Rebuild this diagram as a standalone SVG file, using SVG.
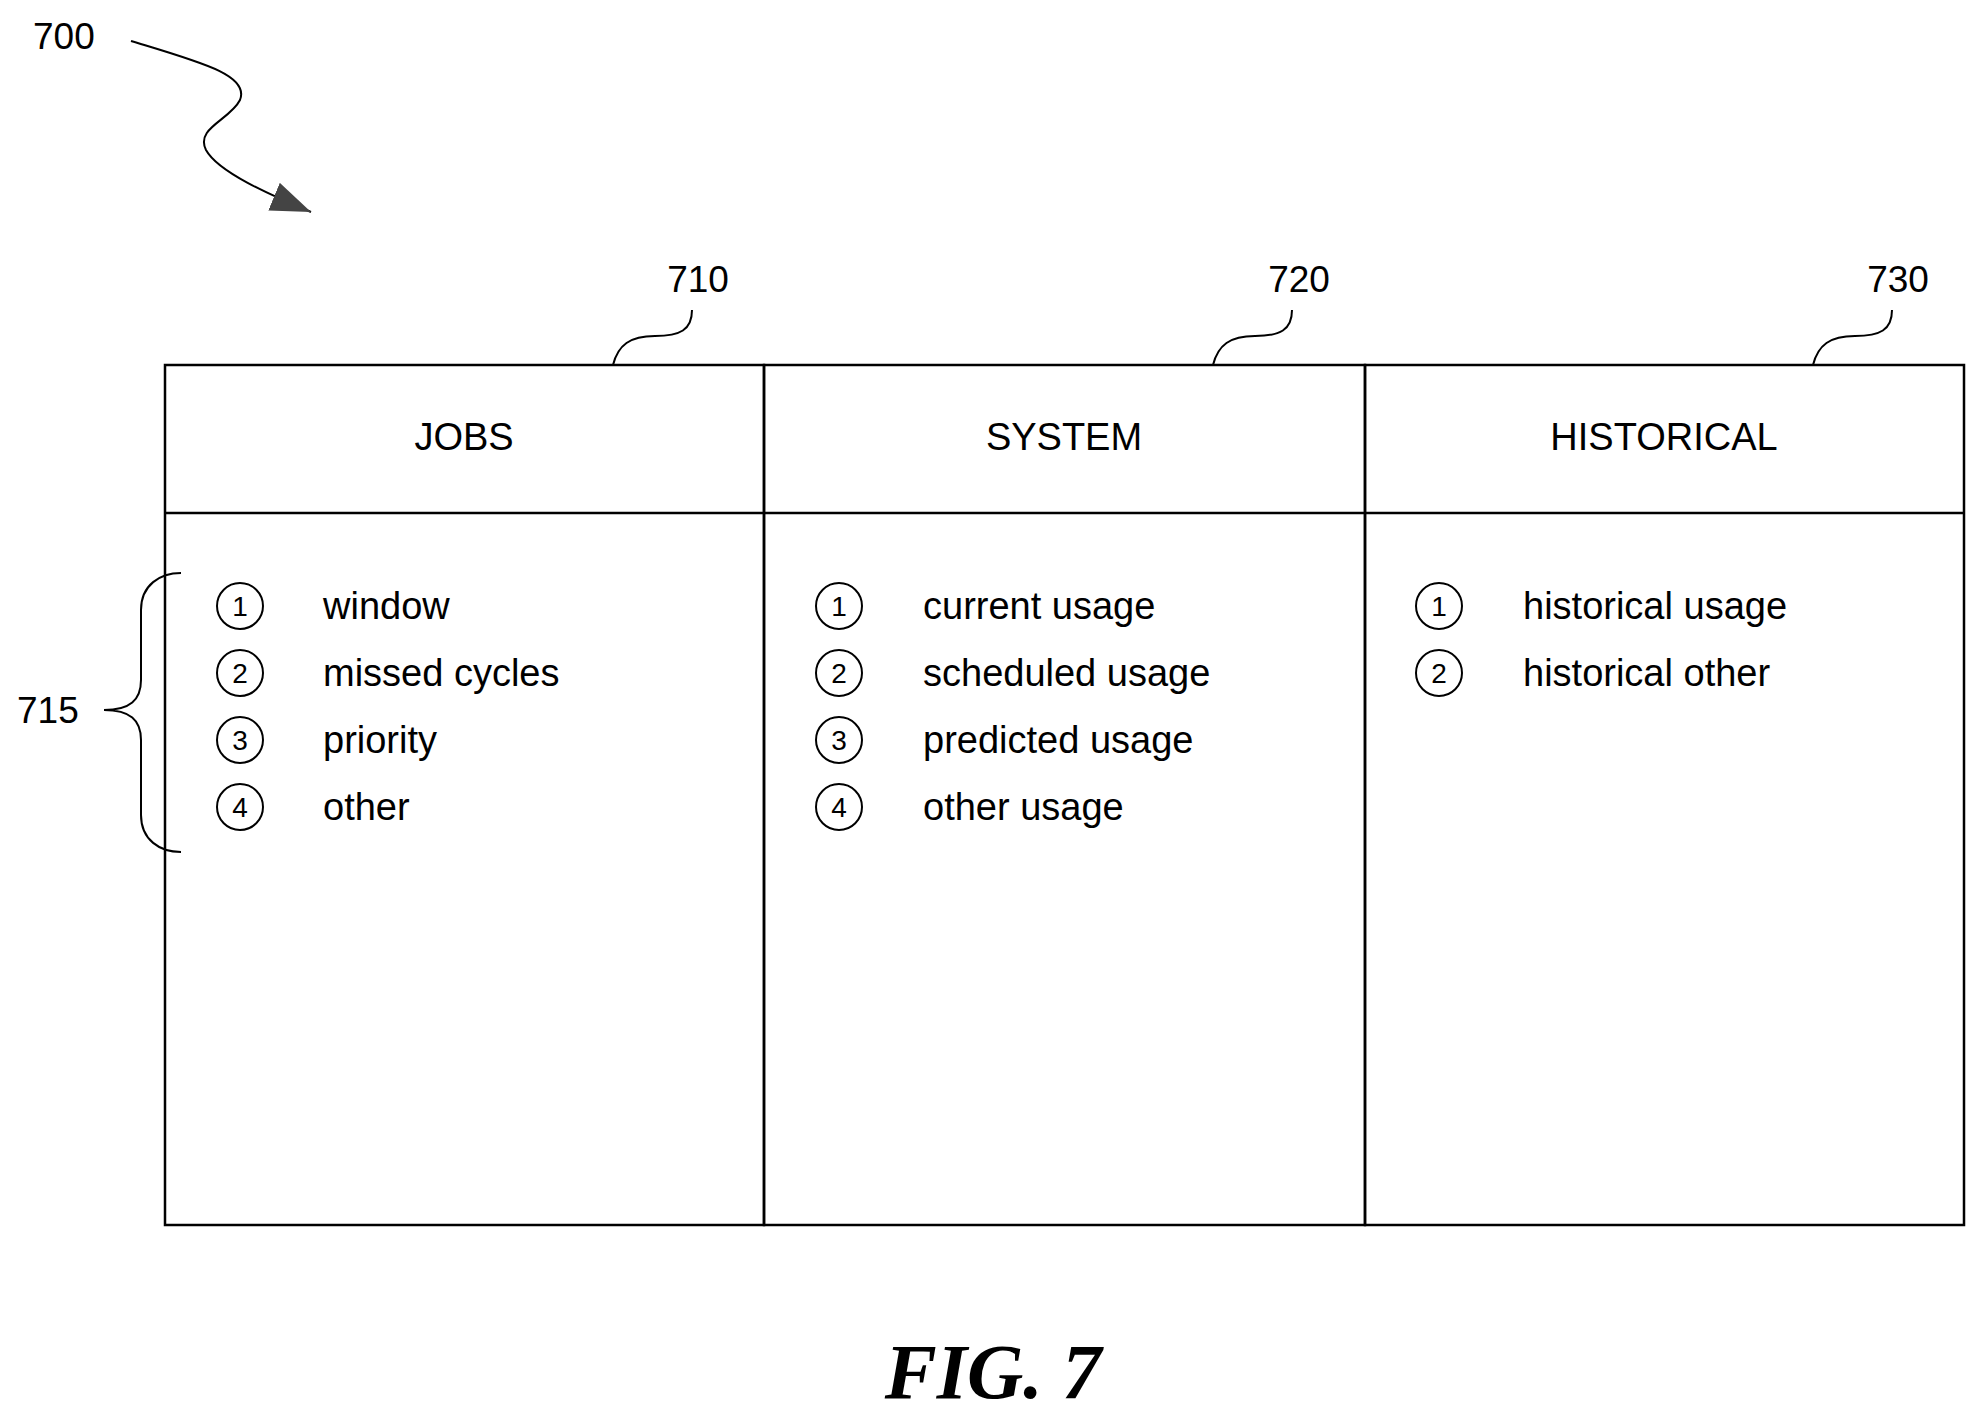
<svg xmlns="http://www.w3.org/2000/svg" width="1987" height="1423" viewBox="0 0 1987 1423">
<style>
.t{font-family:"Liberation Sans",Arial,sans-serif;fill:#000}
.h{font-size:38px;text-anchor:middle}
.i{font-size:38px}
.n{font-size:28px;text-anchor:middle}
.l{font-size:37px}
.s{fill:none;stroke:#000;stroke-width:2.5}
.c{fill:none;stroke:#000;stroke-width:2}
</style>
<defs><marker id="ah" markerWidth="12" markerHeight="10" refX="11" refY="5" orient="auto" markerUnits="userSpaceOnUse" viewBox="0 0 12 10"><path d="M0,0 L12,5 L0,10 Z" fill="#333"/></marker>
<marker id="ah2" markerWidth="40" markerHeight="30" refX="40" refY="15" orient="auto" markerUnits="userSpaceOnUse"><path d="M0,0 L40,15 L0,30 Z" fill="#444"/></marker></defs>
<rect width="1987" height="1423" fill="#fff"/>
<g id="connectors">
<path class="c" d="M131,41 C200,62 250,75 240,100 C230,120 195,128 206,150 C218,172 270,195 311,212" marker-end="url(#ah2)"/>
<path class="c" d="M613,365 C618,345 630,336 655,336 C680,336 692,330 692,310"/>
<path class="c" d="M1213,365 C1218,345 1230,336 1255,336 C1280,336 1292,330 1292,310"/>
<path class="c" d="M1813,365 C1818,345 1830,336 1855,336 C1880,336 1892,330 1892,310"/>
<path class="c" d="M181,573 C160,573 141,585 141,610 L141,680 C141,700 130,710 104,710 C130,710 141,720 141,740 L141,815 C141,840 160,852 181,852"/>
</g>
<g id="label700"><text class="t l" x="33" y="49">700</text></g>
<g id="label715"><text class="t l" x="17" y="723">715</text></g>
<g id="col710">
<rect class="s" x="165" y="365" width="599" height="860"/>
<line class="s" x1="165" y1="513" x2="764" y2="513"/>
<text class="t h" x="464" y="450">JOBS</text>
<text class="t l" x="698" y="292" text-anchor="middle">710</text>
<g class="c"><circle cx="240" cy="606" r="23"/><circle cx="240" cy="673" r="23"/><circle cx="240" cy="740" r="23"/><circle cx="240" cy="807" r="23"/></g>
<text class="t n" x="240" y="616">1</text><text class="t n" x="240" y="683">2</text><text class="t n" x="240" y="750">3</text><text class="t n" x="240" y="817">4</text>
<text class="t i" x="323" y="619">window</text>
<text class="t i" x="323" y="686">missed cycles</text>
<text class="t i" x="323" y="753">priority</text>
<text class="t i" x="323" y="820">other</text>
</g>
<g id="col720">
<rect class="s" x="764" y="365" width="601" height="860"/>
<line class="s" x1="764" y1="513" x2="1365" y2="513"/>
<text class="t h" x="1064" y="450">SYSTEM</text>
<text class="t l" x="1299" y="292" text-anchor="middle">720</text>
<g class="c"><circle cx="839" cy="606" r="23"/><circle cx="839" cy="673" r="23"/><circle cx="839" cy="740" r="23"/><circle cx="839" cy="807" r="23"/></g>
<text class="t n" x="839" y="616">1</text><text class="t n" x="839" y="683">2</text><text class="t n" x="839" y="750">3</text><text class="t n" x="839" y="817">4</text>
<text class="t i" x="923" y="619">current usage</text>
<text class="t i" x="923" y="686">scheduled usage</text>
<text class="t i" x="923" y="753">predicted usage</text>
<text class="t i" x="923" y="820">other usage</text>
</g>
<g id="col730">
<rect class="s" x="1365" y="365" width="599" height="860"/>
<line class="s" x1="1365" y1="513" x2="1964" y2="513"/>
<text class="t h" x="1664" y="450">HISTORICAL</text>
<text class="t l" x="1898" y="292" text-anchor="middle">730</text>
<g class="c"><circle cx="1439" cy="606" r="23"/><circle cx="1439" cy="673" r="23"/></g>
<text class="t n" x="1439" y="616">1</text><text class="t n" x="1439" y="683">2</text>
<text class="t i" x="1523" y="619">historical usage</text>
<text class="t i" x="1523" y="686">historical other</text>
</g>
<g id="caption"><text x="993" y="1398" text-anchor="middle" style="font-family:'Liberation Serif','Times New Roman',serif;font-size:78px;font-weight:bold;font-style:italic">FIG. 7</text></g>
</svg>
